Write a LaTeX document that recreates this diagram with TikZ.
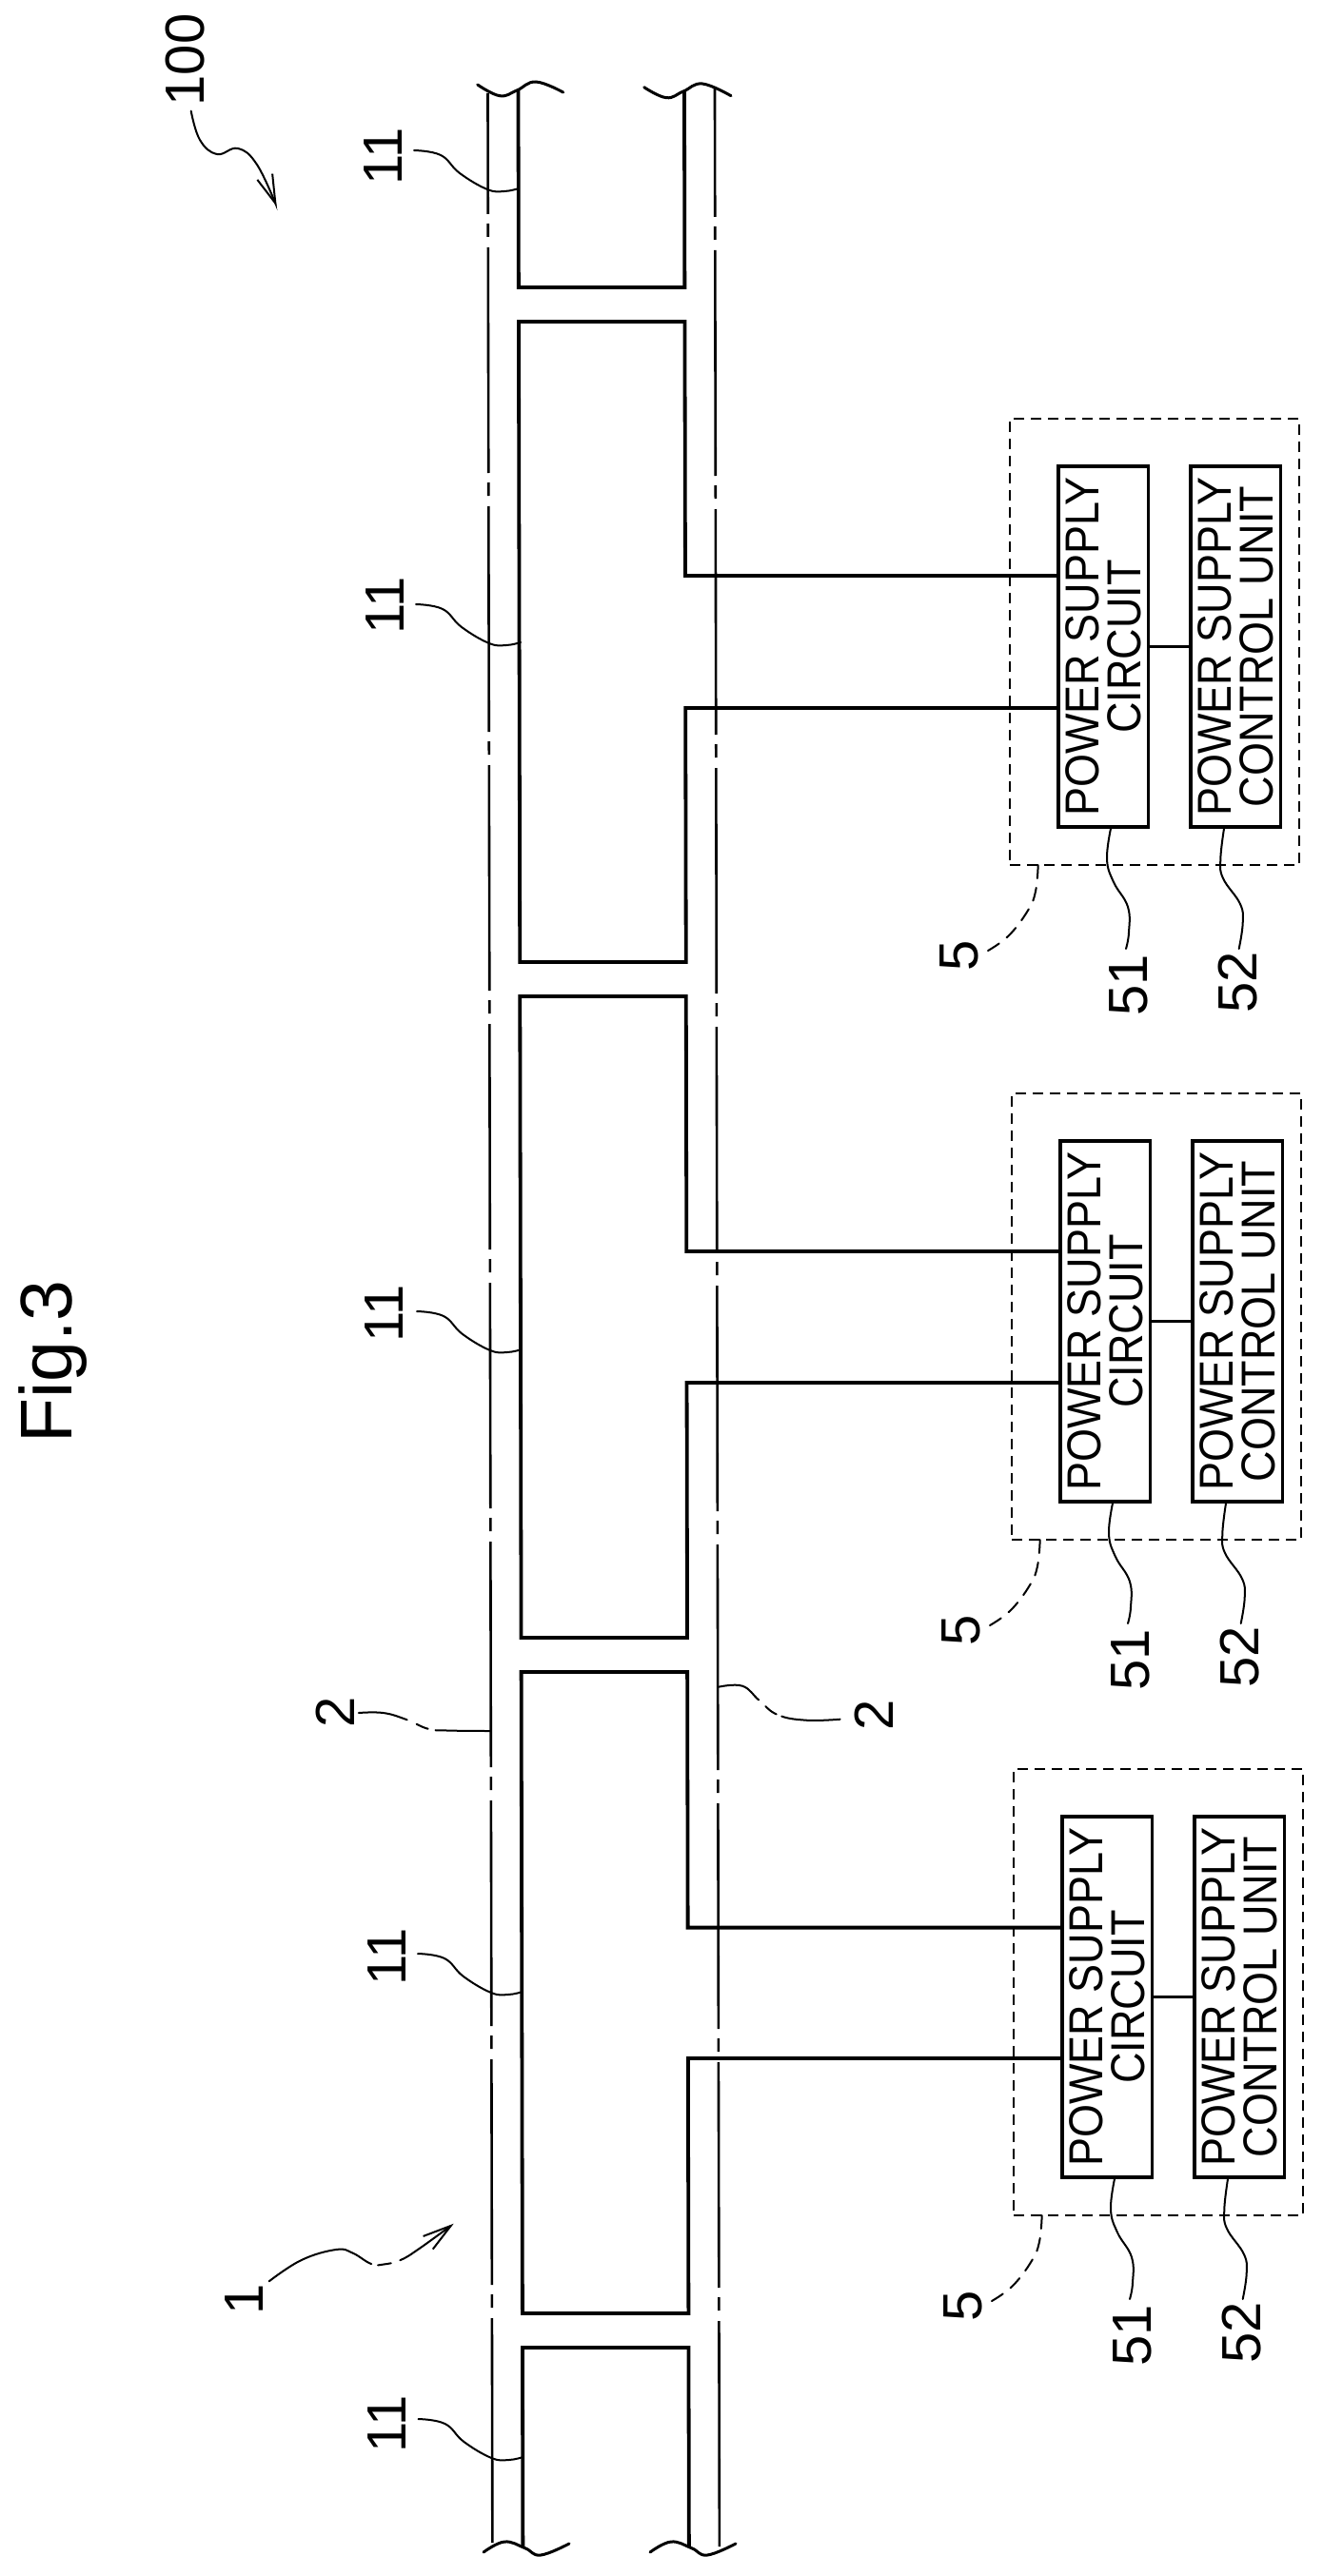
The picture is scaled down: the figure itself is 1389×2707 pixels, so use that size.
\documentclass[tikz,border=0pt]{standalone}
\usepackage{fontspec}
\setmainfont{Liberation Sans}
\newfontfamily\boxfont[FakeStretch=0.9]{Liberation Sans}
\usetikzlibrary{arrows.meta}
\tikzset{
  blockline/.style={line width=1.9pt,line join=miter,line cap=butt},
  wave/.style={line width=1.5pt,line cap=round},
  railL/.style={line width=1.3pt,dash pattern=on 118.5pt off 5pt on 7pt off 5.5pt,dash phase=55pt},
  railR/.style={line width=1.3pt,dash pattern=on 118.5pt off 5pt on 7pt off 5.5pt,dash phase=50.5pt},
  dashbox/.style={draw,line width=1.2pt,dash pattern=on 5.5pt off 3.5pt,minimum width=152pt,minimum height=234.5pt,inner sep=0pt,outer sep=0pt},
  psbox/.style={draw,rotate=90,line width=1.75pt,minimum width=189.5pt,minimum height=47.25pt,inner sep=0pt,outer sep=0pt,align=center,font=\boxfont\fontsize{25}{22}\selectfont},
  numlabel/.style={rotate=90,anchor=base,inner sep=0pt,font=\fontsize{29}{29}\selectfont},
  leader/.style={line width=1pt,line cap=round},
  barb/.style={-{Straight Barb[length=15pt,width=8.5pt]}},
}
\begin{document}
\begin{tikzpicture}[x=.5pt,y=-.5pt]
\useasboundingbox (0,0) rectangle (1389,2707);
\fill[white] (0,0) rectangle (1389,2707);

% title and reference numerals
\node[rotate=90,anchor=base,inner sep=0pt,font=\fontsize{38.5}{38.5}\selectfont] (fig) at (75,1431) {Fig.3};
\node[numlabel] (l100) at (214,63) {100};
\coordinate (l100s) at (200.7,116.7);
\coordinate (l100e) at (290.7,217);
\draw[leader,barb] plot[smooth,tension=.7] coordinates {(l100s) (210,147) (228,162) (250,156) (270,173) (l100e)};

\node[numlabel] (l1) at (276,2416) {1};
\coordinate (l1s) at (282.7,2397.3);
\coordinate (l1e) at (476.7,2336.7);
\draw[leader,barb,dash pattern=on 60pt off 3.5pt on 7pt off 5pt on 60pt off 0pt]
  plot[smooth,tension=.7] coordinates {(l1s) (316.7,2375) (353,2364) (370,2367.3) (390,2379) (403,2379.5) (420.7,2375) (440,2363.3) (l1e)};

% power supply sections
\foreach \i/\dx/\dy in {1/0/0,2/2/709,3/4/1419}{
  \begin{scope}[shift={(\dx,\dy)}]
    \node[dashbox] (dash\i) at (1213,674.5) {};
    \node[psbox] (psc\i) at (1159.25,679.5) {POWER SUPPLY\\CIRCUIT};
    \node[psbox] (pscu\i) at (1298.25,679.5) {POWER SUPPLY\\CONTROL UNIT};
    \draw[blockline] (psc\i.south) -- (pscu\i.north);
    \node[numlabel] (l5-\i) at (1027.7,1004) {5};
    \node[numlabel] (l51-\i) at (1205,1035) {51};
    \node[numlabel] (l52-\i) at (1320.7,1032) {52};
    \coordinate (a5-\i) at (1090.7,909);
    \coordinate (b5-\i) at (1038,999);
    \coordinate (a51-\i) at (1167,870.7);
    \coordinate (b51-\i) at (1183,997);
    \coordinate (a52-\i) at (1286,870.7);
    \coordinate (b52-\i) at (1301.7,997);
    \draw[leader,dash pattern=on 7pt off 5pt] plot[smooth,tension=.7] coordinates {(a5-\i) (1088,936.7) (1080,956.7) (1060,983) (b5-\i)};
    \draw[leader] plot[smooth,tension=.7] coordinates {(a51-\i) (1163,903) (1170,927) (1185,953) (1186,980) (b51-\i)};
    \draw[leader] plot[smooth,tension=.7] coordinates {(a52-\i) (1282.3,903) (1285,923) (1303,950) (1305.7,970) (b52-\i)};
  \end{scope}
}

% rails and blocks (the scan leans slightly, so the y axis does too)
\begin{scope}[y={(0.00095pt,-.5pt)}]
  \coordinate (a1) at (718.8,605);
  \coordinate (b1) at (718.8,744);
  \coordinate (a2) at (718.8,1315);
  \coordinate (b2) at (718.8,1453);
  \coordinate (a3) at (718.8,2025.6);
  \coordinate (b3) at (718.8,2163);
  \draw[railL] (512.3,98) -- (512.3,2672);
  \draw[railR] (750.8,92) -- (750.8,2681);
  \draw[blockline] (544.3,95) -- (544.3,302) -- (718.8,302) -- (718.8,96);
  \draw[blockline] (psc1.north |- a1) -- (a1) -- (718.8,338) -- (544.3,338) -- (544.3,1011) -- (718.8,1011) -- (b1) -- (psc1.north |- b1);
  \draw[blockline] (psc2.north |- a2) -- (a2) -- (718.8,1047) -- (544.3,1047) -- (544.3,1721) -- (718.8,1721) -- (b2) -- (psc2.north |- b2);
  \draw[blockline] (psc3.north |- a3) -- (a3) -- (718.8,1757) -- (544.3,1757) -- (544.3,2431) -- (718.8,2431) -- (b3) -- (psc3.north |- b3);
  \draw[blockline] (544.3,2677) -- (544.3,2467) -- (718.8,2467) -- (718.8,2677);
\end{scope}

% break lines
\draw[wave] plot[smooth,tension=.7] coordinates {(501.7,89) (525,100.7) (543,95) (563,86) (591.7,97)};
\draw[wave] plot[smooth,tension=.7] coordinates {(676.7,91.7) (700,102.7) (718,96) (738,88) (768,100.7)};
\draw[wave] plot[smooth,tension=.7] coordinates {(508,2682) (530,2671) (551.7,2677.7) (568,2685) (598,2673)};
\draw[wave] plot[smooth,tension=.7] coordinates {(683,2682) (705,2671) (726.7,2677.7) (743,2685) (773,2673)};

% block numerals
\foreach \i/\lx/\ly/\dx/\dy in {0/422/164/0/0,1/424/636/2/477,2/423/1380/3/1220,3/426/2056/4/1895,4/426.7/2547/4.5/2384}{
  \node[numlabel] (l11-\i) at (\lx,\ly) {11};
  \begin{scope}[shift={(\dx,\dy)}]
    \coordinate (s11-\i) at (435,158);
    \coordinate (e11-\i) at (545,198);
    \draw[leader] plot[smooth,tension=.7] coordinates {(s11-\i) (463,163) (483,182) (512,199) (530,201) (e11-\i)};
  \end{scope}
}

% rail numerals
\node[numlabel] (l2a) at (372,1799) {2};
\coordinate (l2as) at (376.8,1800);
\coordinate (l2ae) at (515.8,1819);
\draw[leader,dash pattern=on 26pt off 5.5pt on 6.5pt off 4pt on 40pt off 0pt]
  plot[smooth,tension=.7] coordinates {(l2as) (402.7,1800) (427,1807) (449.6,1816.7) (470,1818.5) (l2ae)};
\node[numlabel] (l2b) at (938.4,1802) {2};
\coordinate (l2bs) at (755,1772.7);
\coordinate (l2be) at (882.6,1806.7);
\draw[leader,dash pattern=on 24pt off 5pt on 7pt off 3pt on 40pt off 0pt]
  plot[smooth,tension=.7] coordinates {(l2bs) (780,1771.7) (797.8,1787) (817,1802) (847,1807.7) (l2be)};
\end{tikzpicture}
\end{document}
